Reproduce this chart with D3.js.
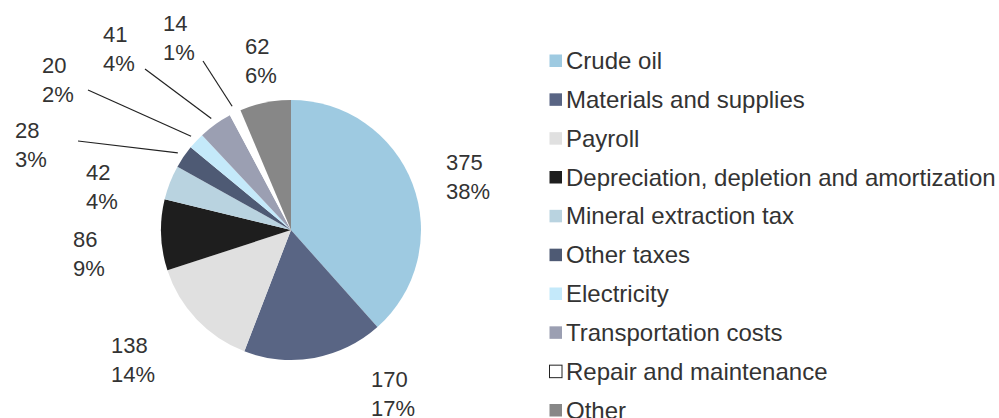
<!DOCTYPE html>
<html lang="en">
<head>
    <meta charset="UTF-8">
    <title>Cost structure</title>
    <script src="https://cdnjs.cloudflare.com/ajax/libs/d3/7.8.5/d3.min.js"></script>
    <style>
        body { margin: 0; background: #fff; font-family: "Liberation Sans", Arial, sans-serif; }
        svg { display: block; }
        .lbl { font-size: 22px; fill: #333; }
        .legend text { font-size: 24px; fill: #333; }
        .leader { stroke: #222; stroke-width: 1.2px; fill: none; }
    </style>
</head>
<body>
    <svg width="999" height="418"></svg>
    <script>
        // chart data
        const categories = ["Crude oil", "Materials and supplies", "Payroll",
            "Depreciation, depletion and amortization", "Mineral extraction tax",
            "Other taxes", "Electricity", "Transportation costs",
            "Repair and maintenance", "Other"];
        const values = [375, 170, 138, 86, 42, 28, 20, 41, 14, 62];
        const colors = ["#9ecae1", "#596584", "#e0e0e0", "#1e1e1e", "#b9d3e0",
            "#4e5a74", "#c4e9fa", "#9b9fb2", "#ffffff", "#878787"];

        // label placement (left x, first baseline) and optional leader start
        const labelLayout = [
            { x: 446, y: 170 },
            { x: 371, y: 387 },
            { x: 111, y: 353 },
            { x: 73, y: 247 },
            { x: 86, y: 180 },
            { x: 15, y: 138, lead: [78, 141] },
            { x: 42, y: 73, lead: [88, 90] },
            { x: 103, y: 42, lead: [145, 69] },
            { x: 163, y: 31, lead: [203, 61] },
            { x: 245, y: 54 }
        ];

        const svg = d3.select("svg");
        const cx = 291, cy = 230, r = 130;
        const total = d3.sum(values);

        const pie = d3.pie().sort(null).value(d => d.value);
        const arc = d3.arc().innerRadius(0).outerRadius(r);
        const data = categories.map((c, i) => ({ name: c, value: values[i], color: colors[i] }));
        const arcs = pie(data);

        const g = svg.append("g").attr("transform", `translate(${cx},${cy})`);
        g.selectAll("path")
            .data(arcs)
            .enter()
            .append("path")
            .attr("d", arc)
            .attr("fill", d => d.data.color);

        // leader lines for the small slices
        const leadArc = d3.arc().innerRadius(137).outerRadius(137);
        arcs.forEach((d, i) => {
            const L = labelLayout[i];
            if (!L.lead) return;
            const p = leadArc.centroid(d);
            svg.append("line").classed("leader", true)
                .attr("x1", L.lead[0]).attr("y1", L.lead[1])
                .attr("x2", cx + p[0]).attr("y2", cy + p[1]);
        });

        // value + percent labels
        arcs.forEach((d, i) => {
            const L = labelLayout[i];
            const t = svg.append("text").classed("lbl", true);
            t.append("tspan").attr("x", L.x).attr("y", L.y).text(d.data.value);
            t.append("tspan").attr("x", L.x).attr("y", L.y + 29)
                .text(Math.round(d.data.value / total * 100) + "%");
        });

        // legend
        const ly = d3.scalePoint().domain(categories).range([60.5, 410]);
        const leg = svg.append("g").classed("legend", true)
            .selectAll("g")
            .data(data)
            .enter()
            .append("g")
            .attr("transform", d => `translate(549,${ly(d.name)})`);
        leg.append("rect")
            .attr("x", 0.5).attr("y", -6)
            .attr("width", 12.5).attr("height", 12.5)
            .attr("fill", d => d.color)
            .attr("stroke", d => d.color === "#ffffff" ? "#222" : "none");
        leg.append("text")
            .attr("x", 17).attr("dy", "0.36em")
            .text(d => d.name);
    </script>
</body>
</html>
